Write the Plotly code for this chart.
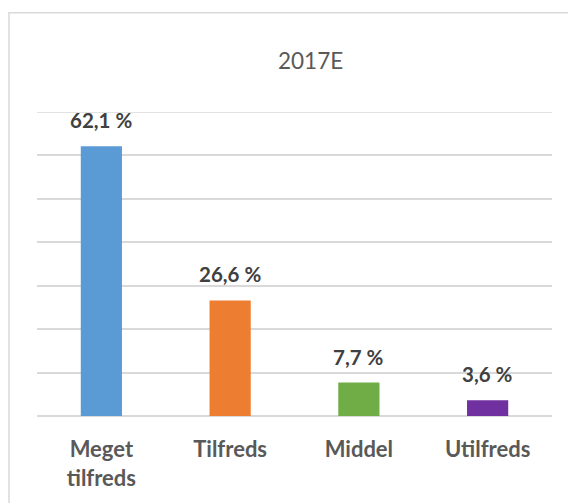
import plotly.graph_objects as go

categories = ["Meget<br>tilfreds", "Tilfreds", "Middel", "Utilfreds"]
tick_text = ["<b>Meget</b><br><b>tilfreds</b>", "<b>Tilfreds</b>", "<b>Middel</b>", "<b>Utilfreds</b>"]
values = [62.1, 26.6, 7.7, 3.6]
labels = ["62,1 %", "26,6 %", "7,7 %", "3,6 %"]
colors = ["#5B9BD5", "#ED7D31", "#70AD47", "#7030A0"]
title = "2017E"
y_max = 70

FONT = "Lato, 'Noto Sans', sans-serif"

# page body has an 8px margin: figure origin sits at (8, 8) in the window
OFF = 8
W, H = 576 - OFF, 503 - OFF
L, R, T, B = 37 - OFF, 576 - 552, 112 - OFF, 503 - 418
PW, PH = W - L - R, H - T - B

fig = go.Figure()
fig.add_trace(go.Bar(
    x=categories, y=values, marker=dict(color=colors, line=dict(width=0)),
    hoverinfo="skip", showlegend=False,
))

for c, v, t in zip(categories, values, labels):
    fig.add_annotation(x=c, y=v, text="<b>%s</b>" % t, showarrow=False,
                       yanchor="middle", yshift=26,
                       font=dict(family=FONT, size=20.5, color="#404040"))

fig.add_annotation(xref="paper", yref="paper", x=(310 - 37) / PW, y=1,
                   yshift=52, text=title, showarrow=False, yanchor="middle",
                   font=dict(family=FONT, size=22.5, color="#595959"))

# chart border
fig.add_shape(type="rect", xref="paper", yref="paper",
              x0=(9 - 37) / PW, x1=(640 - 37) / PW,
              y0=(418 - 540) / PH, y1=(418 - 12) / PH,
              line=dict(color="#D9D9D9", width=1.5), layer="below")

# top gridline (plotly hides the one on the range edge)
fig.add_shape(type="line", xref="paper", yref="y", x0=0, x1=1, y0=y_max, y1=y_max,
              line=dict(color="#D9D9D9", width=1.5), layer="below")

fig.update_layout(
    width=W, height=H,
    margin=dict(l=L, r=R, t=T, b=B),
    paper_bgcolor="white", plot_bgcolor="white",
    bargap=0.68,
    font=dict(family=FONT),
)
fig.update_xaxes(
    showline=False, ticks="",
    tickfont=dict(family=FONT, size=22, color="#595959"),
    ticklabelstandoff=18,
    tickvals=categories,
    ticktext=tick_text,
)
fig.update_yaxes(
    range=[0, y_max], tickvals=[0, 10, 20, 30, 40, 50, 60, 70], showticklabels=False,
    gridcolor="#D9D9D9", gridwidth=1.5, zeroline=True, zerolinecolor="#D9D9D9",
    zerolinewidth=1.5,
)

fig.write_html("out.html")
